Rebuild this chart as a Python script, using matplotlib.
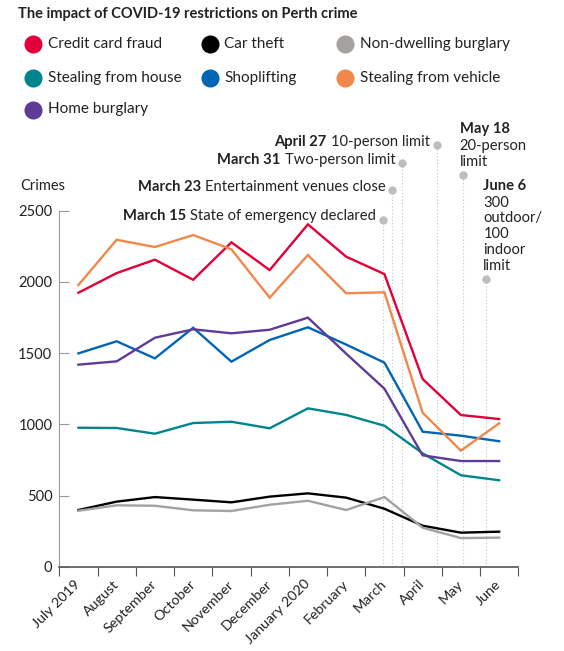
import matplotlib
matplotlib.use("Agg")
import matplotlib.pyplot as plt
from matplotlib.lines import Line2D

plt.rcParams['font.family'] = ['Lato', 'DejaVu Sans']

# 数据
months = ["July 2019", "August", "September", "October", "November", "December",
          "January 2020", "February", "March", "April", "May", "June"]
credit_card = [1924, 2062, 2156, 2015, 2278, 2083, 2404, 2177, 2055, 1318, 1065, 1037]
car_theft = [398, 457, 489, 471, 452, 492, 515, 485, 407, 288, 239, 246]
non_dwelling = [393, 431, 428, 396, 391, 435, 463, 398, 489, 274, 201, 204]
house = [976, 974, 934, 1009, 1018, 972, 1112, 1066, 990, 796, 642, 607]
shoplifting = [1498, 1583, 1463, 1678, 1440, 1592, 1681, 1560, 1433, 948, 920, 881]
vehicle = [1978, 2296, 2245, 2329, 2229, 1889, 2189, 1920, 1927, 1081, 815, 1007]
home = [1419, 1442, 1608, 1667, 1639, 1664, 1749, 1496, 1250, 782, 742, 742]

series_names = ["Credit card fraud", "Car theft", "Non-dwelling burglary",
                "Stealing from house", "Shoplifting", "Stealing from vehicle",
                "Home burglary"]
series_values = [credit_card, car_theft, non_dwelling, house, shoplifting, vehicle, home]
colors = ["#e2003a", "#000000", "#a4a19e", "#00858d", "#0066b4", "#f0884c", "#5f3b98"]

# 限制措施：月份序号（July=0）、日期、天数
event_month = [8, 8, 8, 9, 10, 11]
event_day = [15, 23, 31, 27, 18, 6]
month_days = [31, 31, 31, 30, 31, 30]
event_bold = ["March 15", "March 23", "March 31", "April 27", "May 18", "June 6"]
event_text = ["State of emergency declared", "Entertainment venues close",
              "Two-person limit", "10-person limit", "20-person\nlimit",
              "300\noutdoor/\n100\nindoor\nlimit"]
label_height = [2435, 2643, 2832, 2961, 2749, 2018]

W, H = 564, 651
fig = plt.figure(figsize=(W / 100, H / 100), dpi=100)
ax = fig.add_axes([59.3 / W, 1 - 566.7 / H, (518.3 - 59.3) / W, (566.7 - 210.7) / H])

x = [i + 0.5 for i in range(len(months))]

# 事件竖线和圆点
for k in range(len(event_day)):
    ex = event_month[k] + (event_day[k] - 1) / month_days[k]
    ax.plot([ex, ex], [0, label_height[k]], ls=(0, (1, 2)), color="#c4c4c4",
            lw=0.8, zorder=1, clip_on=False)
    ax.plot(ex, label_height[k], "o", ms=6, color="#bdbdbd", mec="none",
            zorder=2, clip_on=False)
    if k < 4:
        t = ax.annotate(event_text[k], xy=(ex, label_height[k]), xytext=(-4.8, 2.5),
                        textcoords="offset points", ha="right", va="center",
                        fontsize=10.6, color="#222222", annotation_clip=False)
        ax.annotate(event_bold[k], xy=(0, 0), xycoords=t, xytext=(-3, 0),
                    textcoords="offset points", ha="right", va="bottom",
                    fontsize=10.6, weight="bold", color="#222222",
                    annotation_clip=False)
    else:
        t = ax.annotate(event_text[k], xy=(ex, label_height[k]), xytext=(-2.2, 4.5),
                        textcoords="offset points", ha="left", va="bottom",
                        fontsize=10.6, color="#222222", linespacing=1.17,
                        annotation_clip=False)
        ax.annotate(event_bold[k], xy=(0, 1), xycoords=t, xytext=(0, 2),
                    textcoords="offset points", ha="left", va="bottom",
                    fontsize=10.6, weight="bold", color="#222222",
                    annotation_clip=False)

for name, vals, c in zip(series_names, series_values, colors):
    ax.plot(x, vals, color=c, lw=1.7, zorder=3, solid_joinstyle="miter")

ax.set_xlim(0, 12)
ax.set_ylim(0, 2500)
ax.spines["top"].set_visible(False)
ax.spines["right"].set_visible(False)
ax.spines["left"].set_color("#9a9a9a")
ax.spines["bottom"].set_color("#555555")
ax.spines["bottom"].set_linewidth(1.2)

ax.set_yticks(range(0, 2501, 500))
ax.tick_params(axis="y", direction="in", length=7, color="#9a9a9a", pad=5,
               labelsize=10.5, labelcolor="#222222")
ax.set_xticks(range(13))
ax.set_xticklabels([])
ax.set_xticks(x, minor=True)
ax.set_xticklabels(months, minor=True, rotation=45, ha="right",
                   rotation_mode="anchor", va="center")
ax.tick_params(axis="x", which="major", direction="out", length=6.5, color="#555555")
ax.tick_params(axis="x", which="minor", length=0, pad=11, labelsize=10.3,
               labelcolor="#222222")

fig.text(20 / W, 1 - 186 / H, "Crimes", fontsize=10.5, va="center", color="#222222")
fig.text(18 / W, 1 - 14 / H, "The impact of COVID-19 restrictions on Perth crime",
         fontsize=10.5, weight="bold", va="center", color="#222222")

# 图例
leg_x = [33.3, 210, 345]
leg_y = [44, 78, 109.5]
for i, (name, c) in enumerate(zip(series_names, colors)):
    cx = leg_x[i % 3]
    cy = leg_y[i // 3]
    fig.add_artist(Line2D([cx / W], [1 - cy / H], marker="o", ms=13, color=c,
                          mec="none", transform=fig.transFigure))
    fig.text((cx + 14.5) / W, 1 - cy / H, name, fontsize=11, va="center",
             color="#222222")

fig.savefig("out.png", dpi=100)
